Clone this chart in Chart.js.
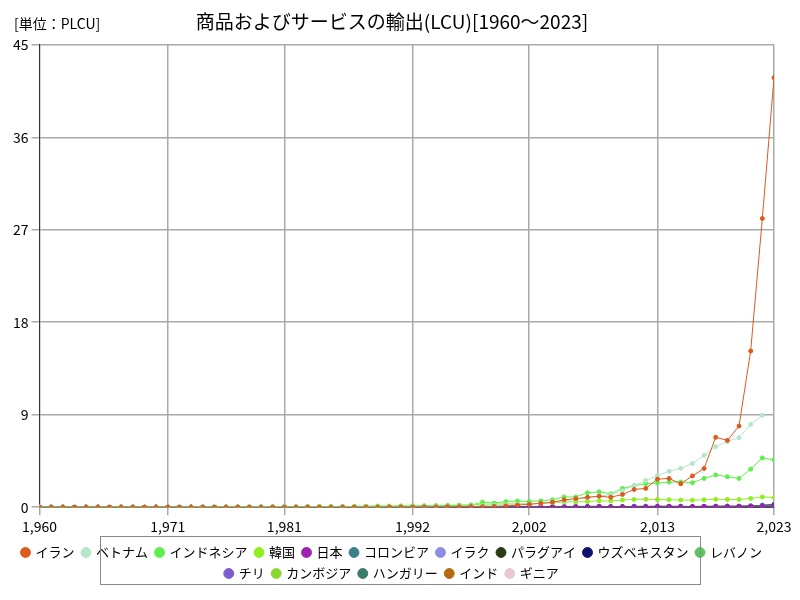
<!DOCTYPE html>
<html><head><meta charset="utf-8">
<script src="https://cdn.jsdelivr.net/npm/chart.js@4"></script>
<style>body{margin:0;background:#fff}#wrap{width:800px;height:600px;position:relative}</style>
</head><body><div id="wrap"><canvas id="c"></canvas></div>
<script>
const years = [];
for (let y = 1960; y <= 2023; y++) years.push(y);
const xTicks = [1960, 1971, 1981, 1992, 2002, 2013, 2023];

// 1960..2023 (64 values each)
const iran = [
  0,0,0,0,0,0,0,0,0,0, 0,0,0,0,0,0,0,0,0,0, 0,0,0,0,0,0,0,0,0,0,
  0.01,0.01,0.02,0.02,0.03,0.04,0.05,0.06,0.05,0.08,
  0.12,0.2,0.28,0.38,0.48,0.72,0.83,0.97,1.07,0.97,
  1.24,1.73,1.83,2.73,2.8,2.28,3.04,3.77,6.8,6.5,
  7.9,15.2,28.1,41.8];
const vietnam = [
  0,0,0,0,0,0,0,0,0,0, 0,0,0,0,0,0,0,0,0,0, 0,0,0,0,0,0,0,0,0,0,
  0.01,0.01,0.02,0.03,0.04,0.05,0.07,0.1,0.15,0.2,
  0.25,0.27,0.3,0.38,0.5,0.6,0.75,0.9,1.1,1.2,
  1.6,2.1,2.6,3.08,3.5,3.77,4.25,5.05,5.9,6.4,
  6.77,8.06,8.95,null];
const indonesia = [
  0,0,0,0,0,0,0,0,0,0, 0,0,0,0.01,0.02,0.02,0.03,0.03,0.03,0.04,
  0.05,0.06,0.06,0.06,0.07,0.07,0.07,0.08,0.09,0.1,
  0.1,0.11,0.12,0.13,0.14,0.15,0.17,0.2,0.5,0.4,
  0.55,0.6,0.55,0.62,0.72,1.0,1.0,1.4,1.5,1.3,
  1.83,2.1,2.28,2.35,2.45,2.45,2.38,2.8,3.14,2.97,
  2.8,3.7,4.8,4.6];
const korea = [
  0,0,0,0,0,0,0,0,0,0, 0,0,0,0,0,0.01,0.01,0.02,0.02,0.03,
  0.03,0.04,0.05,0.05,0.06,0.06,0.07,0.08,0.09,0.1,
  0.1,0.11,0.12,0.13,0.15,0.18,0.2,0.22,0.3,0.3,
  0.33,0.32,0.33,0.38,0.45,0.5,0.52,0.55,0.62,0.6,
  0.7,0.75,0.77,0.75,0.73,0.7,0.68,0.72,0.77,0.75,
  0.75,0.85,1.0,0.95];
const japan = [
  0,0,0,0,0,0,0,0,0,0, 0,0,0,0,0,0,0,0,0,0, 0,0,0,0,0,0,0,0,0,0,
  0,0,0,0,0,0,0,0,0,0, 0.05,0.05,0.05,0.06,0.07,0.07,0.08,0.09,0.09,0.06,
  0.07,0.07,0.07,0.08,0.09,0.09,0.08,0.09,0.09,0.09,
  0.08,0.1,0.11,0.11];
const colombia = [
  0,0,0,0,0,0,0,0,0,0, 0,0,0,0,0,0,0,0,0,0, 0,0,0,0,0,0,0,0,0,0,
  0,0,0,0,0,0,0,0,0,0, 0.01,0.01,0.01,0.02,0.02,0.03,0.03,0.03,0.04,0.04,
  0.04,0.06,0.06,0.06,0.06,0.05,0.05,0.06,0.07,0.07,
  0.06,0.09,0.14,0.12];
const iraq = [
  0,0,0,0,0,0,0,0,0,0, 0,0,0,0,0,0,0,0,0,0, 0,0,0,0,0,0,0,0,0,0,
  0,0,0,0,0,0,0,0,0,0, 0,0,0,0,0.02,0.03,0.04,0.05,0.08,0.05,
  0.06,0.09,0.1,0.1,0.1,0.06,0.05,0.07,0.1,0.1,
  0.06,0.1,0.15,0.13];
const paraguay = [
  0,0,0,0,0,0,0,0,0,0, 0,0,0,0,0,0,0,0,0,0, 0,0,0,0,0,0,0,0,0,0,
  0,0,0,0,0,0,0,0,0,0, 0.01,0.01,0.01,0.01,0.02,0.02,0.02,0.03,0.04,0.03,
  0.05,0.05,0.05,0.06,0.06,0.06,0.06,0.07,0.07,0.07,
  0.06,0.07,0.08,0.1];
const uzbekistan = [
  0,0,0,0,0,0,0,0,0,0, 0,0,0,0,0,0,0,0,0,0, 0,0,0,0,0,0,0,0,0,0,
  0,0,0,0,0,0,0,0,0,0, 0,0,0,0,0,0,0,0.01,0.01,0.01,
  0.01,0.02,0.02,0.02,0.02,0.03,0.03,0.04,0.07,0.09,
  0.1,0.12,0.18,0.22];
const lebanon = [
  0,0,0,0,0,0,0,0,0,0, 0,0,0,0,0,0,0,0,0,0, 0,0,0,0,0,0,0,0,0,0,
  0,0,0,0,0,0,0,0,0,0, 0.01,0.01,0.01,0.01,0.01,0.02,0.02,0.02,0.03,0.03,
  0.03,0.03,0.03,0.03,0.03,0.03,0.03,0.03,0.03,0.03,
  0.03,0.1,0.2,0.3];
const chile = [
  0,0,0,0,0,0,0,0,0,0, 0,0,0,0,0,0,0,0,0,0, 0,0,0,0,0,0,0,0,0,0,
  0,0,0,0,0,0,0,0,0,0, 0.01,0.01,0.01,0.02,0.02,0.02,0.03,0.03,0.03,0.03,
  0.04,0.04,0.04,0.04,0.05,0.05,0.05,0.05,0.05,0.05,
  0.05,0.07,0.08,0.08];
const cambodia = [
  0,0,0,0,0,0,0,0,0,0, 0,0,0,0,0,0,0,0,0,0, 0,0,0,0,0,0,0,0,0,0,
  0,0,0,0,0,0,0,0,0,0, 0.01,0.01,0.01,0.01,0.02,0.02,0.02,0.03,0.03,0.03,
  0.03,0.04,0.04,0.05,0.05,0.05,0.06,0.06,0.07,0.07,
  0.06,0.07,0.08,0.09];
const hungary = [
  0,0,0,0,0,0,0,0,0,0, 0,0,0,0,0,0,0,0,0,0, 0,0,0,0,0,0,0,0,0,0,
  0,0,0,0,0,0,0,0,0,0, 0.01,0.01,0.01,0.01,0.01,0.02,0.02,0.02,0.02,0.02,
  0.02,0.03,0.03,0.03,0.03,0.03,0.03,0.03,0.04,0.04,
  0.04,0.05,0.06,0.06];
const india = [
  0,0,0,0,0,0,0,0,0,0, 0,0,0,0,0,0,0,0,0,0, 0,0,0,0,0,0,0,0,0,0,
  0,0,0,0,0,0,0,0,0,0, 0.01,0.01,0.01,0.01,0.01,0.01,0.01,0.02,0.02,0.02,
  0.02,0.02,0.02,0.03,0.03,0.03,0.03,0.03,0.03,0.03,
  0.03,0.04,0.04,0.05];
const guinea = [
  0,0,0,0,0,0,0,0,0,0, 0,0,0,0,0,0,0,0,0,0, 0,0,0,0,0,0,0,0,0,0,
  0,0,0,0,0,0,0,0,0,0, 0,0,0,0,0,0,0.01,0.01,0.01,0.01,
  0.01,0.01,0.01,0.01,0.01,0.01,0.01,0.02,0.02,0.02,
  0.02,0.03,0.03,0.03];

const series = [
  ["イラン", iran, "#dd5a1e"],
  ["ベトナム", vietnam, "#b4e6c8"],
  ["インドネシア", indonesia, "#5ef04a"],
  ["韓国", korea, "#90ee20"],
  ["日本", japan, "#a020b0"],
  ["コロンビア", colombia, "#3f7f8c"],
  ["イラク", iraq, "#8c8ce6"],
  ["パラグアイ", paraguay, "#2a3a14"],
  ["ウズベキスタン", uzbekistan, "#10106e"],
  ["レバノン", lebanon, "#5cc460"],
  ["チリ", chile, "#7a5ccc"],
  ["カンボジア", cambodia, "#8cd630"],
  ["ハンガリー", hungary, "#3a7a6a"],
  ["インド", india, "#b86a10"],
  ["ギニア", guinea, "#e6c8d2"],
];

// legend frame + unit label
const legendBox = {
  id: "legendBox",
  afterDraw(chart) {
    const ctx = chart.ctx;
    ctx.save();
    ctx.strokeStyle = "#888";
    ctx.lineWidth = 1;
    ctx.strokeRect(100.5, 536.5, 600, 48);
    ctx.fillStyle = "#000";
    ctx.font = "14px 'Noto Sans CJK JP'";
    ctx.fillText("[単位：PLCU]", 14, 24);
    ctx.restore();
  }
};

Chart.defaults.font.family = "'Noto Sans CJK JP', sans-serif";
new Chart(document.getElementById("c"), {
  type: "line",
  data: {
    datasets: series.map(([label, data, color]) => ({
      label, data: data.map((v, i) => ({ x: years[i], y: v })),
      borderColor: color, backgroundColor: color,
      borderWidth: 1, pointRadius: 2, pointHoverRadius: 2,
    })),
  },
  options: {
    responsive: true, maintainAspectRatio: false, animation: false,
    layout: { padding: { left: 10, right: 26, top: 0, bottom: 10 } },
    plugins: {
      title: { display: true, text: "商品およびサービスの輸出(LCU)[1960～2023]",
        color: "#000", font: { size: 19, weight: "normal" }, padding: { top: 10, bottom: 12 } },
      legend: {
        position: "bottom",
        labels: { usePointStyle: true, pointStyle: "circle", boxWidth: 7, boxHeight: 7,
          color: "#000", font: { size: 13 }, padding: 8 },
      },
      tooltip: { enabled: false },
    },
    scales: {
      x: {
        type: "linear", min: 1960, max: 2023,
        afterBuildTicks: (s) => { s.ticks = xTicks.map((v) => ({ value: v })); },
        ticks: { color: "#000", font: { size: 14 }, maxRotation: 0, autoSkip: false },
        grid: { color: "#aaa", lineWidth: 1.5 },
        border: { color: "#333" },
      },
      y: {
        min: 0, max: 45,
        ticks: { stepSize: 9, color: "#000", font: { size: 14 } },
        grid: { color: "#aaa", lineWidth: 1.5 },
        border: { color: "#333" },
      },
    },
  },
  plugins: [legendBox],
});
</script></body></html>
